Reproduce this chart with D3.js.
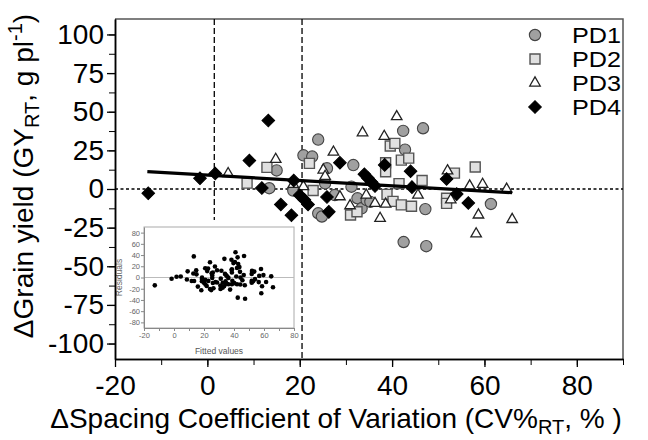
<!DOCTYPE html>
<html>
<head>
<meta charset="utf-8">
<script src="https://cdn.jsdelivr.net/npm/d3@7"></script>
<style>
body { margin: 0; background: #fff; }
text { font-family: "Liberation Sans", Arial, sans-serif; }
</style>
</head>
<body>
<svg id="chart" width="648" height="440"></svg>
<script>
// data: [CV%, grain yield]
const pd1 = [[13.4,0.5],[15,12],[18.6,-1],[20.8,21.8],[22.7,21],[24,32],[25.9,13.4],[25.5,3.7],[24,-15.7],[24.8,-17.8],[27.6,-3.9],[31.6,15.5],[31.2,1.5],[32.5,-6],[33.4,-12.5],[34.5,-7.2],[35.3,-8.3],[42.4,37.6],[42.8,25.5],[46.7,39.3],[47.2,-13],[42.5,-34.3],[47.4,-37],[61.4,-9.7]];
const pd2 = [[8.6,3.8],[12.9,14],[22.1,16.6],[22.9,-1],[31,-16.8],[32.4,-14.7],[38.6,17],[38.6,11.2],[39.6,27.8],[40.6,29.5],[42,18.7],[43.6,20],[41.5,3.5],[46.5,5.5],[38.9,-3.5],[40.2,-8],[42,-10.3],[44.2,-11.2],[51.8,-6],[51.8,-9.3],[53.5,10.3],[58,14.2]];
const pd3 = [[4.5,10],[14.8,19.2],[18.6,3],[20.8,1.5],[25.1,12.3],[25.5,8.2],[27.3,23.9],[28.7,-5],[30.9,-10.8],[33.6,36.4],[38.3,34.1],[41,46.8],[34.4,-3.9],[36.3,-9.3],[37.4,-19],[38.6,-9.8],[45.6,-3.9],[52,11.8],[52.7,-7],[56.8,2],[59.6,3],[58.7,-16.8],[58.2,-29],[64.8,-0.1],[66,-19.7]];
const pd4 = [[-12.8,-2.8],[-1.6,6.9],[1.7,10],[9.1,18.4],[13.2,44.3],[11.8,0.6],[15.9,-10],[18.2,-17],[18.7,5.5],[20,-4],[21,-7],[21.8,-10],[25.9,-5.2],[26.3,-14.8],[28.7,17],[34,9.5],[34.8,7],[35.5,4.5],[36.3,2],[38.4,15.6],[44,11.5],[44.3,1.2],[51.8,6.5],[54,-3.3],[56.5,-9]];
const seriesNames = ["PD1", "PD2", "PD3", "PD4"];

// fitted regression line (end points)
const fitX = [-13, 66];
const fitY = [11.2, -2.4];
// dashed reference lines
const refX = [1.5, 20.5];
const refBottom = [-20, -110];

const xTicks = [-20, 0, 20, 40, 60, 80];
const xMinor = d3.range(-20, 91, 10);
const yTicks = [-100, -75, -50, -25, 0, 25, 50, 75, 100];
const yMinor = d3.range(-100, 101, 12.5);
const insetXTicks = [-20, 0, 20, 40, 60, 80];
const insetXMinor = d3.range(-20, 81, 10);
const insetYTicks = [-80, -60, -40, -20, 0, 20, 40, 60, 80];

const svg = d3.select("#chart");
const x = d3.scaleLinear().domain([-20, 90]).range([115, 623]);
const y = d3.scaleLinear().domain([-110, 110]).range([359, 19]);

// frame top/right
svg.append("path")
  .attr("d", `M${x(-20)},${y(110)}H${x(90)}V${y(-110)}`)
  .attr("fill", "none").attr("stroke", "#555").attr("stroke-width", 1.5);

// reference lines
svg.append("line")
  .attr("x1", x(-20)).attr("x2", x(90)).attr("y1", y(0)).attr("y2", y(0))
  .attr("stroke", "#000").attr("stroke-width", 1.5).attr("stroke-dasharray", "3,2.5");
svg.selectAll(".vref").data(refX).enter().append("line")
  .attr("x1", d => x(d)).attr("x2", d => x(d))
  .attr("y1", y(110)).attr("y2", (d, i) => y(refBottom[i]))
  .attr("stroke", "#000").attr("stroke-width", 1.3).attr("stroke-dasharray", "6,3");

// inset (residuals)
const ix = d3.scaleLinear().domain([-20, 80]).range([144, 294]);
const iy = d3.scaleLinear().domain([-90, 90]).range([328, 227]);
const fit = d3.scaleLinear().domain(fitX).range(fitY);
const resid = [].concat(pd1, pd2, pd3, pd4).map(d => [d[0], d[1] - fit(d[0])]);

const inset = svg.append("g");
inset.append("rect")
  .attr("x", ix(-20)).attr("y", iy(90))
  .attr("width", ix(80) - ix(-20)).attr("height", iy(-90) - iy(90))
  .attr("fill", "#fff").attr("stroke", "#aaa").attr("stroke-width", 1);
inset.append("line")
  .attr("x1", ix(-20)).attr("x2", ix(80)).attr("y1", iy(0)).attr("y2", iy(0))
  .attr("stroke", "#bbb").attr("stroke-width", 1);

const iyAxis = inset.append("g").attr("transform", `translate(${ix(-20)},0)`)
  .call(d3.axisLeft(iy).tickValues(insetYTicks).tickSize(3).tickPadding(1).tickSizeOuter(0).tickFormat(d => String(d)));
const ixAxis = inset.append("g").attr("transform", `translate(0,${iy(-90)})`)
  .call(d3.axisBottom(ix).tickValues(insetXMinor).tickSize(3).tickPadding(2).tickSizeOuter(0)
    .tickFormat(d => insetXTicks.includes(d) ? String(d) : ""));
[iyAxis, ixAxis].forEach(g => {
  g.select(".domain").attr("stroke", "#888");
  g.selectAll("line").attr("stroke", "#888");
  g.selectAll("text").attr("font-size", 7.5).attr("fill", "#666")
    .attr("font-family", '"Liberation Sans", Arial, sans-serif');
});

inset.selectAll(".res").data(resid).enter().append("circle")
  .attr("cx", d => ix(d[0])).attr("cy", d => iy(d[1])).attr("r", 2.3).attr("fill", "#000");

inset.append("text").attr("transform", `translate(122,${iy(0)}) rotate(-90)`)
  .attr("text-anchor", "middle").attr("font-size", 8.5).attr("fill", "#666").text("Residuals");
inset.append("text").attr("x", 219).attr("y", 354)
  .attr("text-anchor", "middle").attr("font-size", 8.5).attr("fill", "#555").text("Fitted values");

// markers
const circleSym = d3.symbol().type(d3.symbolCircle).size(100);
const squareSym = d3.symbol().type(d3.symbolSquare).size(100);
const triSym = d3.symbol().type(d3.symbolTriangle).size(48);
const diaSym = d3.symbol().type(d3.symbolSquare).size(80);

const styles = [
  { data: pd1, sym: circleSym, fill: "#a0a0a0", stroke: "#444", sw: 1.1, rot: 0 },
  { data: pd2, sym: squareSym, fill: "#e0e0e0", stroke: "#555", sw: 1.4, rot: 0 },
  { data: pd3, sym: triSym, fill: "#fff", stroke: "#222", sw: 1.3, rot: 0 },
  { data: pd4, sym: diaSym, fill: "#000", stroke: "#000", sw: 1, rot: 45 }
];

styles.forEach((s, k) => {
  svg.append("g").selectAll("path").data(s.data).enter().append("path")
    .attr("d", s.sym())
    .attr("transform", d => `translate(${x(d[0])},${y(d[1])}) rotate(${s.rot})`)
    .attr("fill", s.fill).attr("stroke", s.stroke).attr("stroke-width", s.sw);
});

// regression line
svg.append("line")
  .attr("x1", x(fitX[0])).attr("y1", y(fitY[0]))
  .attr("x2", x(fitX[1])).attr("y2", y(fitY[1]))
  .attr("stroke", "#000").attr("stroke-width", 3.2);

// axes
const yAxis = svg.append("g").attr("transform", `translate(${x(-20)},0)`)
  .call(d3.axisLeft(y).tickValues(yTicks).tickSize(8).tickPadding(3).tickSizeOuter(0).tickFormat(d => String(d)));
svg.append("g").attr("transform", `translate(${x(-20)},0)`)
  .call(d3.axisLeft(y).tickValues(yMinor).tickSize(6).tickSizeOuter(0).tickFormat(""));
const xAxis = svg.append("g").attr("transform", `translate(0,${y(-110)})`)
  .call(d3.axisBottom(x).tickValues(xTicks).tickSize(8).tickPadding(8).tickSizeOuter(0).tickFormat(d => String(d)));
svg.append("g").attr("transform", `translate(0,${y(-110)})`)
  .call(d3.axisBottom(x).tickValues(xMinor).tickSize(6).tickSizeOuter(0).tickFormat(""));
svg.selectAll(".domain").filter(function () { return !inset.node().contains(this); })
  .attr("stroke", "#000").attr("stroke-width", 1.5);
[yAxis, xAxis].forEach(g => {
  g.selectAll("line").attr("stroke-width", 1.3);
  g.selectAll("text").attr("font-size", 28).attr("fill", "#000")
    .attr("font-family", '"Liberation Sans", Arial, sans-serif');
});

// legend
const legY = [35, 59, 83, 107];
styles.forEach((s, k) => {
  svg.append("path").attr("d", s.sym())
    .attr("transform", `translate(535,${legY[k]}) rotate(${s.rot})`)
    .attr("fill", s.fill).attr("stroke", s.stroke).attr("stroke-width", s.sw);
  svg.append("text").attr("x", 621).attr("y", legY[k] + 8)
    .attr("text-anchor", "end").attr("font-size", 21.5)
    .attr("textLength", 49).attr("lengthAdjust", "spacingAndGlyphs")
    .text(seriesNames[k]);
});

// titles
const yt = svg.append("text").attr("transform", "translate(33,176) rotate(-90)")
  .attr("text-anchor", "middle").attr("font-size", 28);
yt.append("tspan").text("\u0394Grain yield (GY");
yt.append("tspan").attr("font-size", 20).attr("dy", 6).text("RT");
yt.append("tspan").attr("dy", -6).text(", g pl");
yt.append("tspan").attr("font-size", 20).attr("dy", -11).text("-1");
yt.append("tspan").attr("dy", 11).text(")");

const xt = svg.append("text").attr("x", 336).attr("y", 428)
  .attr("text-anchor", "middle").attr("font-size", 28);
xt.append("tspan").text("\u0394Spacing Coefficient of Variation (CV%");
xt.append("tspan").attr("font-size", 20).attr("dy", 6).text("RT");
xt.append("tspan").attr("dy", -6).text(", % )");
</script>
</body>
</html>
